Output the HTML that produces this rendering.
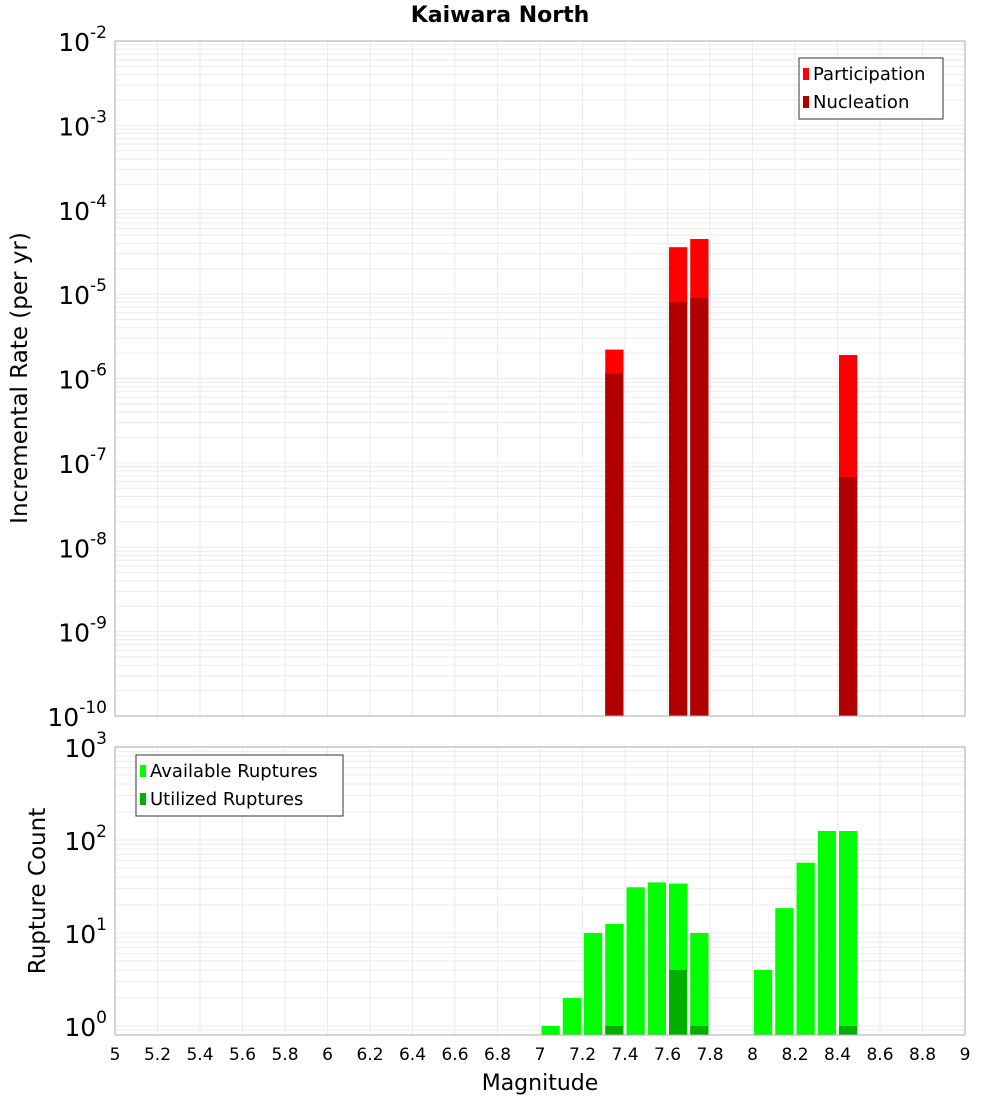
<!DOCTYPE html>
<html><head><meta charset="utf-8"><style>
body{margin:0;background:#fff;font-family:"DejaVu Sans","Liberation Sans",sans-serif}
</style></head><body>
<svg id="c" width="1000" height="1100" xmlns="http://www.w3.org/2000/svg" font-family="DejaVu Sans, Liberation Sans, sans-serif">
<text x="500" y="22" text-anchor="middle" font-size="22" font-weight="bold">Kaiwara North</text>
<g id="topplot"></g>
<g id="botplot"></g>
<text x="540" y="1090" text-anchor="middle" font-size="22">Magnitude</text>
<text transform="translate(27,378) rotate(-90)" text-anchor="middle" font-size="23">Incremental Rate (per yr)</text>
<text transform="translate(45,891) rotate(-90)" text-anchor="middle" font-size="23">Rupture Count</text>
</svg>
<script>
const rateMags=[7.35,7.65,7.75,8.45];
const participation=[2.2e-6,3.6e-5,4.5e-5,1.9e-6];
const nucleation=[1.15e-6,8e-6,9e-6,6.8e-8];
const countMags=[7.05,7.15,7.25,7.35,7.45,7.55,7.65,7.75,8.05,8.15,8.25,8.35,8.45];
const available=[1,2,10,12.5,31,35,34,10,4,18.5,57,125,125];
const utilMags=[7.35,7.65,7.75,8.45];
const utilized=[1,4,1,1];
const xTicks=[5,5.2,5.4,5.6,5.8,6,6.2,6.4,6.6,6.8,7,7.2,7.4,7.6,7.8,8,8.2,8.4,8.6,8.8,9];

const NS="http://www.w3.org/2000/svg";
const X0=115,X1=965;
const xs=m=>X0+(m-5)/4*(X1-X0);
const T={top:41,bot:716,lo:-10,hi:-2};
const B={top:747,bot:1035,lo:-0.097,hi:3};
const ys=(P,v)=>P.bot-(Math.log10(v)-P.lo)/(P.hi-P.lo)*(P.bot-P.top);
function mk(p,tag,a){const e=document.createElementNS(NS,tag);for(const k in a)e.setAttribute(k,a[k]);p.appendChild(e);return e;}
function frame(g,P,name){
  mk(g,'rect',{x:X0,y:P.top,width:X1-X0,height:P.bot-P.top,fill:'#fff'});
  for(let d=Math.floor(P.lo);d<=P.hi;d++)for(let k=1;k<10;k++){
    const v=k*Math.pow(10,d),l=Math.log10(v);if(l<P.lo||l>P.hi)continue;
    const y=ys(P,v);
    const ln=mk(g,'line',{x1:X0,x2:X1,y1:y,y2:y,stroke:'#ebebeb','stroke-width':1});
    
    
  }
  xTicks.forEach(t=>{const x=xs(t);
    const ln=mk(g,'line',{x1:x,x2:x,y1:P.top,y2:P.bot,stroke:'#ebebeb','stroke-width':1});
    
    });
}
function border(g,P){mk(g,'rect',{x:X0,y:P.top,width:X1-X0,height:P.bot-P.top,fill:'none',stroke:'#aaa','stroke-width':1});}
function ylabels(g,P,decs,name){
  decs.forEach(d=>{const y=ys(P,Math.pow(10,d));
    const t=mk(g,'text',{x:107,y:y+10,'text-anchor':'end','font-size':25});
    
    
    t.textContent='10';
    const s=mk(t,'tspan',{dy:-13,'font-size':17});s.textContent=String(d);
  });
}
function bar(g,m,v,P,col,name){
  const x=xs(m-0.05)+1.5,w=xs(m+0.05)-xs(m-0.05)-3,y=ys(P,v);
  const r=mk(g,'rect',{x:x,y:y,width:w,height:P.bot-y,fill:col});
  
  
}
const topG=document.getElementById('topplot'),botG=document.getElementById('botplot');
frame(topG,T,'top');frame(botG,B,'bottom');
rateMags.forEach((m,i)=>bar(topG,m,participation[i],T,'#ff0000','participation-bar'));
rateMags.forEach((m,i)=>bar(topG,m,nucleation[i],T,'#b00000','nucleation-bar'));
countMags.forEach((m,i)=>bar(botG,m,available[i],B,'#00ff00','available-bar'));
utilMags.forEach((m,i)=>bar(botG,m,utilized[i],B,'#00b000','utilized-bar'));
border(topG,T);border(botG,B);
ylabels(topG,T,[-2,-3,-4,-5,-6,-7,-8,-9,-10],'top-y');
ylabels(botG,B,[3,2,1,0],'bottom-y');
xTicks.forEach(t=>{const tx=mk(botG,'text',{x:xs(t),y:1060,'text-anchor':'middle','font-size':17});
  
  
  tx.textContent=String(t);});
function legend(g,x,y,w,items,name){
  const lg=mk(g,'g',{});
  
  
  mk(lg,'rect',{x:x,y:y,width:w,height:items.length*28+5,fill:'#fff',stroke:'#333','stroke-width':1});
  items.forEach((it,i)=>{
    const e=mk(lg,'g',{});
    
    
    mk(e,'rect',{x:x+4,y:y+10+i*28,width:6,height:12,fill:it[1]});
    const t=mk(e,'text',{x:x+14,y:y+22+i*28,'font-size':18});t.textContent=it[0];
  });
}
legend(topG,799,58,144,[['Participation','#ff0000'],['Nucleation','#b00000']],'top-legend');
legend(botG,136,755,207,[['Available Ruptures','#00ff00'],['Utilized Ruptures','#00b000']],'bottom-legend');
</script>
</body></html>
